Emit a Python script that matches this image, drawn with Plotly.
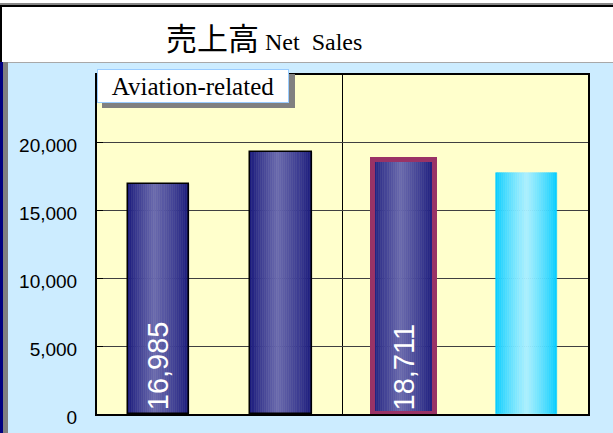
import plotly.graph_objects as go

# ---------------- data ----------------
categories = ["Bar1", "Bar2", "Bar3", "Bar4"]
net_sales = [16985, 19300, 18711, 17800]
value_labels = ["16,985", "", "18,711", ""]
tick_values = [0, 5000, 10000, 15000, 20000]
tick_labels = ["0", "5,000", "10,000", "15,000", "20,000"]
bar_styles = ["navy", "navy", "navy", "cyan"]

# ---------------- geometry ----------------
W, H = 613, 433
L, R, T, B = 97, 588, 75, 414


def px(x):
    return (x - L) / (R - L)


def py(y):
    return (B - y) / (B - T)


GRAD = {
    "navy": ((22, 22, 122), (106, 106, 174), 0.45),
    "cyan": ((0, 204, 255), (172, 240, 255), 0.5),
}


def grad_color(style, t):
    dark, light, p = GRAD[style]
    f = t / p if t < p else (1 - t) / (1 - p)
    f = max(0.0, min(1.0, f)) ** 0.8
    c = [round(d + (l - d) * f) for d, l in zip(dark, light)]
    return f"rgb({c[0]},{c[1]},{c[2]})"


fig = go.Figure()

N = 30
BW = 0.5
for k in range(N):
    t = (k + 0.5) / N
    cols = [grad_color(s, t) for s in bar_styles]
    fig.add_trace(go.Bar(
        x=categories, y=net_sales,
        width=BW / N, offset=-BW / 2 + k * BW / N,
        marker=dict(color=cols, line=dict(color=cols, width=0.6)),
        hoverinfo="skip", showlegend=False,
    ))

# outline + labels
fig.add_trace(go.Bar(
    x=categories, y=net_sales,
    width=BW, offset=-BW / 2,
    marker=dict(color="rgba(0,0,0,0)",
                line=dict(color=["black", "black", "#993366", "rgba(0,0,0,0)"],
                          width=[1.5, 1.5, 5, 0])),
    text=value_labels, textposition="inside", insidetextanchor="start",
    textangle=-90, textfont=dict(family="Liberation Sans, Arial", size=29, color="white"),
    showlegend=False, cliponaxis=False,
))

shapes = [
    # title band
    dict(type="rect", xref="paper", yref="paper", x0=px(0), x1=px(W), y0=py(62), y1=py(0),
         fillcolor="white", line=dict(width=0), layer="below"),
    dict(type="line", xref="paper", yref="paper", x0=px(0), x1=px(W), y0=py(4), y1=py(4),
         line=dict(color="#888888", width=2)),
    dict(type="line", xref="paper", yref="paper", x0=px(0), x1=px(W), y0=py(6), y1=py(6),
         line=dict(color="black", width=2)),
    dict(type="line", xref="paper", yref="paper", x0=px(1), x1=px(1), y0=py(5), y1=py(62),
         line=dict(color="black", width=2)),
    dict(type="line", xref="paper", yref="paper", x0=px(0), x1=px(W), y0=py(62.5), y1=py(62.5),
         line=dict(color="#A8A8A8", width=1)),
    # left edge strips
    dict(type="rect", xref="paper", yref="paper", x0=px(0), x1=px(3), y0=py(H), y1=py(62),
         fillcolor="#000080", line=dict(width=0)),
    dict(type="rect", xref="paper", yref="paper", x0=px(3), x1=px(8), y0=py(H), y1=py(62),
         fillcolor="#808080", line=dict(width=0)),
    # divider between categories 2 and 3
    dict(type="line", xref="x", yref="paper", x0=1.5, x1=1.5, y0=0, y1=1,
         line=dict(color="black", width=1), layer="below"),
    # legend box shadow
    dict(type="rect", xref="paper", yref="paper", x0=px(102), x1=px(295), y0=py(108), y1=py(74),
         fillcolor="#808080", line=dict(width=0)),
]

annotations = [
    dict(xref="paper", yref="paper", x=px(264), y=py(36), xanchor="center", yanchor="middle",
         text="<span style='font-family:Noto Sans CJK JP;font-size:31px'>売上高</span>"
              "<span style='font-family:Liberation Serif, Times New Roman;font-size:24px'> Net&nbsp; Sales</span>",
         showarrow=False, font=dict(color="black")),
    dict(xref="paper", yref="paper", x=px(97), y=py(69), xanchor="left", yanchor="top",
         text="Aviation-related", showarrow=False,
         font=dict(family="Liberation Serif, Times New Roman", size=25, color="black"),
         bgcolor="white", bordercolor="#99CCFF", borderwidth=1, borderpad=0,
         width=190, height=32, align="center"),
]

fig.update_layout(
    width=W, height=H,
    margin=dict(l=L, r=W - R, t=T, b=H - B, pad=0, autoexpand=False),
    paper_bgcolor="#CCECFF", plot_bgcolor="#FFFFCC",
    barmode="overlay", bargap=0,
    shapes=shapes, annotations=annotations,
    xaxis=dict(showticklabels=False, showgrid=False, ticks="", showline=True, mirror=True,
               linecolor="black", linewidth=2, zeroline=False, fixedrange=True,
               automargin=False),
    yaxis=dict(range=[0, 25000], tickvals=tick_values, ticktext=tick_labels,
               showgrid=True, gridcolor="#404040", gridwidth=1,
               ticks="inside", ticklen=6, tickcolor="black",
               ticklabelstandoff=14, ticklabelshift=3,
               showline=True, mirror=True, linecolor="black", linewidth=2, zeroline=False,
               tickfont=dict(family="Liberation Sans, Arial", size=19, color="black"),
               fixedrange=True, automargin=False),
    showlegend=False,
)

fig.write_html("out.html", config={"displayModeBar": False},
               post_script="document.body.style.margin='0';document.body.style.overflow='hidden';")
